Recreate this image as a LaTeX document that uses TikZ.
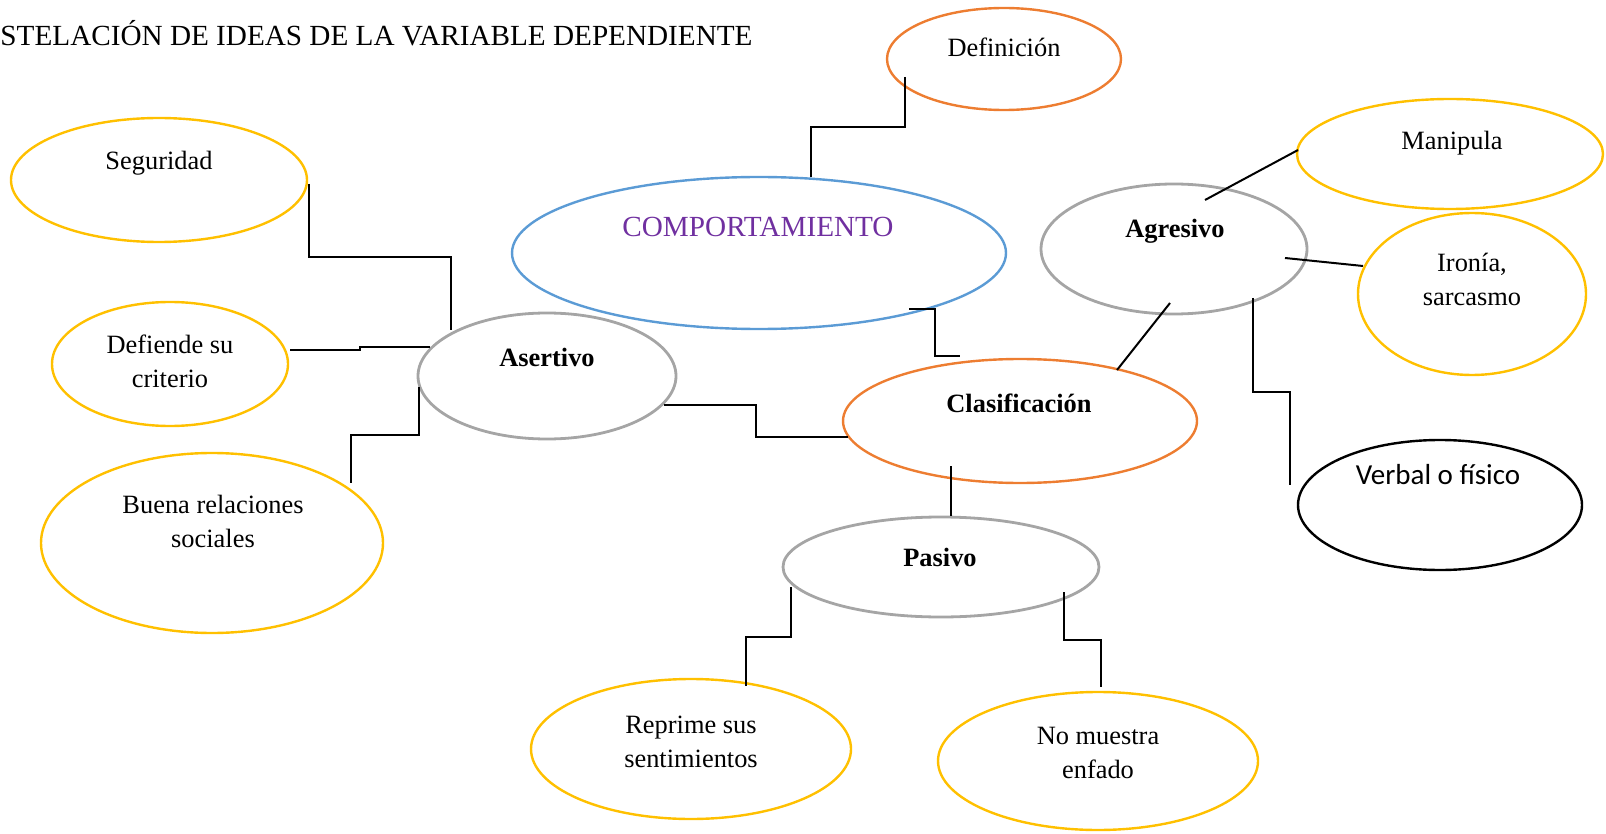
\documentclass[tikz,border=0pt]{standalone}
\usepackage{fontspec}
\setmainfont{Liberation Serif}
\newfontfamily\calib{Carlito}
\usetikzlibrary{shapes.geometric,calc}
\definecolor{cblue}{HTML}{5B9BD5}
\definecolor{corange}{HTML}{ED7D31}
\definecolor{cyellow}{HTML}{FFC000}
\definecolor{cgray}{HTML}{A5A5A5}
\definecolor{cpurple}{HTML}{7030A0}
\begin{document}
\begin{tikzpicture}[x=0.5pt,y=-0.5pt,
  ell/.style={ellipse,draw,inner sep=0pt,line width=1.2pt},
  yell/.style={ell,draw=cyellow},
  gell/.style={ell,draw=cgray,line width=1.4pt},
  oell/.style={ell,draw=corange},
  txt/.style={font=\fontsize{13.2}{17}\selectfont,align=center,inner sep=0pt},
  btxt/.style={txt,font=\fontsize{13.2}{17}\selectfont\bfseries},
  conn/.style={draw=black,line width=1pt},
  vhv/.style={to path={|- ($(\tikztostart)!0.5!(\tikztotarget)$) -| (\tikztotarget)}},
  hvh/.style={to path={-| ($(\tikztostart)!0.5!(\tikztotarget)$) |- (\tikztotarget)}}]
\useasboundingbox (0,0) rectangle (1606,834);

% title
\node[anchor=base east,inner sep=0pt,font=\fontsize{14.6}{17}\selectfont] (title) at (753,46) {STELACIÓN DE IDEAS DE LA VARIABLE DEPENDIENTE};

% ellipses
\node[oell,minimum width=117pt,minimum height=51pt] (def) at (1004,59) {};
\node[txt] (deft) at (1004,47) {Definición};

\node[ell,draw=cblue,minimum width=247pt,minimum height=76pt] (comp) at (759,253) {};
\node[txt,font=\fontsize{14.6}{17}\selectfont,text=cpurple] (compt) at (758,227) {COMPORTAMIENTO};

\node[gell,minimum width=129pt,minimum height=63pt] (ase) at (547,376) {};
\node[btxt] (aset) at (547,357) {Asertivo};

\node[oell,minimum width=177pt,minimum height=62pt] (cla) at (1020,421) {};
\node[btxt] (clat) at (1019,403) {Clasificación};

\node[gell,minimum width=133pt,minimum height=65pt] (agr) at (1174,249) {};
\node[btxt] (agrt) at (1175,231) {Agresivo};

\node[yell,minimum width=153pt,minimum height=55pt] (man) at (1450,154) {};
\node[txt] (mant) at (1452,143) {Manipula};

\node[yell,minimum width=114pt,minimum height=81pt] (iro) at (1472,294) {};
\node[txt] (irot) at (1472,279) {Ironía,\\sarcasmo};

\node[ell,draw=black,minimum width=142pt,minimum height=65pt] (ver) at (1440,505) {};
\node[txt,font=\fontsize{14.5}{17}\calib] (vert) at (1438,475) {Verbal o físico};

\node[yell,minimum width=148pt,minimum height=62pt] (seg) at (159,180) {};
\node[txt] (segt) at (159,163) {Seguridad};

\node[yell,minimum width=118pt,minimum height=62pt] (dsc) at (170,364) {};
\node[txt] (dsct) at (170,361) {Defiende su\\criterio};

\node[yell,minimum width=171pt,minimum height=90pt] (bue) at (212,543) {};
\node[txt] (buet) at (213,521) {Buena relaciones\\sociales};

\node[gell,minimum width=158pt,minimum height=50pt] (pas) at (941,567) {};
\node[btxt] (past) at (940,557) {Pasivo};

\node[yell,minimum width=160pt,minimum height=70pt] (rep) at (691,749) {};
\node[txt] (rept) at (691,742) {Reprime sus\\sentimientos};

\node[yell,minimum width=160pt,minimum height=69pt] (nom) at (1098,761) {};
\node[txt] (nomt) at (1098,753) {No muestra\\enfado};

% connector ends
\coordinate (c1a) at (905,77);   \coordinate (c1b) at (811,177);
\coordinate (c2a) at (909,309);  \coordinate (c2b) at (960,356);
\coordinate (c3a) at (664,405);  \coordinate (c3b) at (848,437);
\coordinate (c4a) at (309,184);  \coordinate (c4b) at (451,330);
\coordinate (c5a) at (290,350);  \coordinate (c5b) at (430,347);
\coordinate (c6a) at (419,387);  \coordinate (c6b) at (351,483);
\coordinate (c7a) at (951,466);  \coordinate (c7b) at (951,516);
\coordinate (c8a) at (1170,303); \coordinate (c8b) at (1117,370);
\coordinate (c9a) at (1205,200); \coordinate (c9b) at (1298,150);
\coordinate (c10a) at (1285,258); \coordinate (c10b) at (1363,266);
\coordinate (c11a) at (1253,298); \coordinate (c11b) at (1290,485);
\coordinate (c12a) at (791,587); \coordinate (c12b) at (746,686);
\coordinate (c13a) at (1064,592); \coordinate (c13b) at (1101,687);

% connectors
\draw[conn] (c1a) to[vhv] (c1b);
\draw[conn] (c2a) to[hvh] (c2b);
\draw[conn] (c3a) to[hvh] (c3b);
\draw[conn] (c4a) to[vhv] (c4b);
\draw[conn] (c5a) to[hvh] (c5b);
\draw[conn] (c6a) to[vhv] (c6b);
\draw[conn] (c7a) -- (c7b);
\draw[conn] (c8a) -- (c8b);
\draw[conn] (c9a) -- (c9b);
\draw[conn] (c10a) -- (c10b);
\draw[conn] (c11a) to[vhv] (c11b);
\draw[conn] (c12a) to[vhv] (c12b);
\draw[conn] (c13a) to[vhv] (c13b);
\end{tikzpicture}
\end{document}
